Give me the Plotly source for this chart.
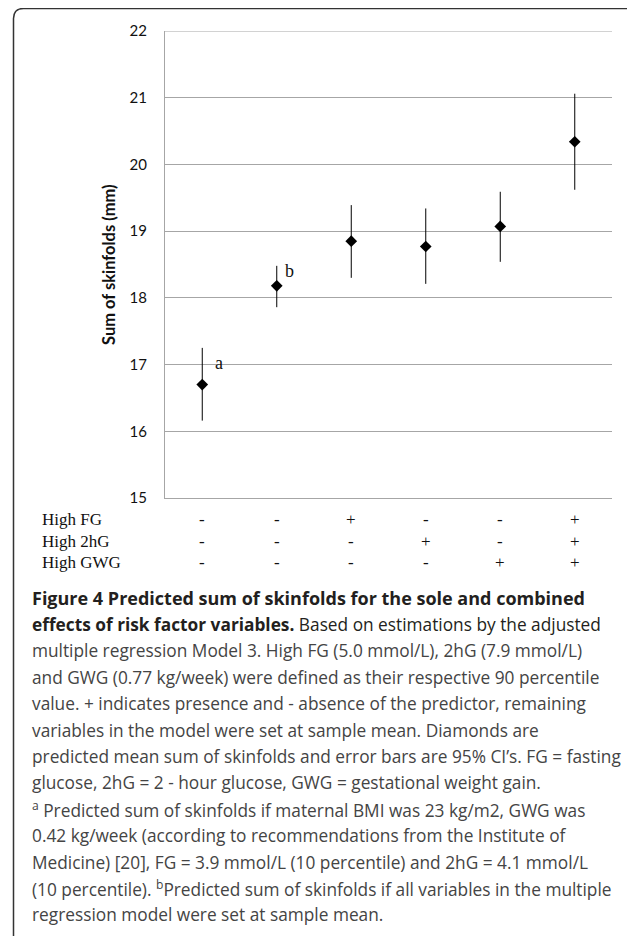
import plotly.graph_objects as go

# ---- data ----
combos = ["C1", "C2", "C3", "C4", "C5", "C6"]
predicted = [16.70, 18.18, 18.85, 18.77, 19.07, 20.34]
ci_upper = [17.25, 18.48, 19.39, 19.34, 19.59, 21.06]
ci_lower = [16.16, 17.86, 18.30, 18.21, 18.54, 19.62]
row_labels = ["High FG", "High 2hG", "High GWG"]
high_fg = ["-", "-", "+", "-", "-", "+"]
high_2hg = ["-", "-", "-", "+", "-", "+"]
high_gwg = ["-", "-", "-", "-", "+", "+"]
point_notes = ["a", "b"]
y_ticks = [15, 16, 17, 18, 19, 20, 21, 22]

caption_lines = [
    "<b>Figure 4 Predicted sum of skinfolds for the sole and combined</b>",
    "<b>effects of risk factor variables.</b> Based on estimations by the adjusted",
    "multiple regression Model 3. High FG (5.0 mmol/L), 2hG (7.9 mmol/L)",
    "and GWG (0.77 kg/week) were defined as their respective 90 percentile",
    "value. + indicates presence and - absence of the predictor, remaining",
    "variables in the model were set at sample mean. Diamonds are",
    "predicted mean sum of skinfolds and error bars are 95% CI\u2019s. FG = fasting",
    "glucose, 2hG = 2 - hour glucose, GWG = gestational weight gain.",
    "<sup>a</sup> Predicted sum of skinfolds if maternal BMI was 23 kg/m2, GWG was",
    "0.42 kg/week (according to recommendations from the Institute of",
    "Medicine) [20], FG = 3.9 mmol/L (10 percentile) and 2hG = 4.1 mmol/L",
    "(10 percentile). <sup>b</sup>Predicted sum of skinfolds if all variables in the multiple",
    "regression model were set at sample mean.",
]

# ---- layout geometry (page pixels; page body has an 8px margin) ----
OFF = 8
W, H = 635 - OFF, 936 - OFF
L, R, T, B = 165, 612, 31, 498          # plot area in page pixels
pw, ph = R - L, B - T


def px(x):
    return (x - L) / pw


def py(y):
    return (B - y) / ph


err_plus = [u - p for u, p in zip(ci_upper, predicted)]
err_minus = [p - l for p, l in zip(predicted, ci_lower)]

fig = go.Figure()
fig.add_trace(go.Scatter(
    x=combos, y=predicted, mode="markers",
    marker=dict(symbol="diamond", size=9, color="black"),
    error_y=dict(type="data", symmetric=False, array=err_plus,
                 arrayminus=err_minus, color="black", thickness=1, width=0),
    showlegend=False, hoverinfo="skip",
))

annotations = []
serif = "Liberation Serif, Times New Roman, serif"

# point notes a / b
note_shifts = [(17, 22), (13, 15)]
for idx, txt in enumerate(point_notes):
    xs, ys = note_shifts[idx]
    annotations.append(dict(
        x=combos[idx], y=predicted[idx], xref="x", yref="y", text=txt,
        showarrow=False, xanchor="center", yanchor="middle",
        xshift=xs, yshift=ys,
        font=dict(family=serif, size=18, color="#111"),
    ))

# table below axis
rows = [high_fg, high_2hg, high_gwg]
row_y = [520, 541, 562]
for lab, vals, yy in zip(row_labels, rows, row_y):
    annotations.append(dict(
        x=px(40), y=py(yy), xref="paper", yref="paper", text=lab,
        showarrow=False, xanchor="left", yanchor="middle",
        font=dict(family=serif, size=17, color="#111"),
    ))
    for i, v in enumerate(vals):
        annotations.append(dict(
            x=combos[i], y=py(yy), xref="x", yref="paper", text=v,
            showarrow=False, xanchor="center", yanchor="middle",
            font=dict(family=serif, size=17, color="#111"),
        ))

# y-axis title
annotations.append(dict(
    x=px(109), y=py(265), xref="paper", yref="paper",
    text="<b>Sum of skinfolds (mm)</b>", textangle=-90, showarrow=False,
    xanchor="center", yanchor="middle",
    font=dict(family="Lato, Open Sans, sans-serif", size=16.5, color="#111"),
))

# caption
y0, dy = 598, 26.4
for k, line in enumerate(caption_lines):
    annotations.append(dict(
        x=px(30), y=py(y0 + k * dy), xref="paper", yref="paper", text=line,
        showarrow=False, xanchor="left", yanchor="middle",
        font=dict(family="Open Sans, sans-serif",
                  size=18 if k == 0 else 17.3,
                  color="#231f20" if k < 2 else "#444444"),
    ))

# rounded frame (left edge, top edge, rounded top corners)
fl, ft, fr, fb, rad = 13.5, 8.5, 638, 960, 10
path = (
    f"M {px(fl)},{py(fb)} L {px(fl)},{py(ft + rad)} "
    f"Q {px(fl)},{py(ft)} {px(fl + rad)},{py(ft)} "
    f"L {px(fr - rad)},{py(ft)} Q {px(fr)},{py(ft)} {px(fr)},{py(ft + rad)}"
)

shapes = [
    dict(type="path", path=path, xref="paper", yref="paper",
         line=dict(color="#333", width=1.5), layer="above"),
    # top gridline at the range edge (y = 22)
    dict(type="line", xref="paper", yref="y", x0=0, x1=1,
         y0=y_ticks[-1], y1=y_ticks[-1],
         line=dict(color="#a6a6a6", width=1), layer="below"),
]

fig.update_layout(
    width=W, height=H,
    margin=dict(l=L - OFF, r=W - (R - OFF), t=T - OFF, b=H - (B - OFF)),
    paper_bgcolor="white", plot_bgcolor="white",
    showlegend=False,
    annotations=annotations,
    shapes=shapes,
    xaxis=dict(type="category", range=[-0.5, 5.5], showticklabels=False,
               showgrid=False, zeroline=False, showline=True,
               linecolor="#a6a6a6", linewidth=1, ticks=""),
    yaxis=dict(range=[15, 22], tickvals=y_ticks, showgrid=True,
               gridcolor="#a6a6a6", gridwidth=1, zeroline=False,
               showline=True, linecolor="#a6a6a6", linewidth=1,
               ticks="", ticklabelstandoff=14,
               tickfont=dict(family="Lato, Open Sans, sans-serif", size=15,
                             color="#111")),
)

fig.write_html("out.html")
